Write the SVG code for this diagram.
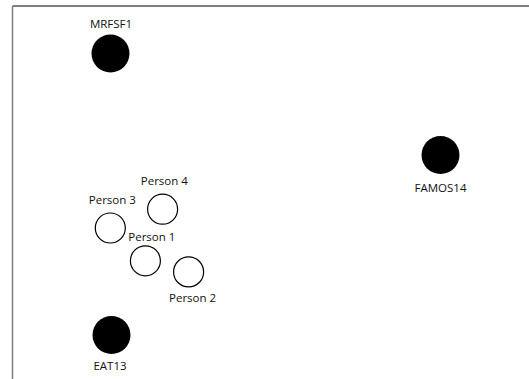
<svg xmlns="http://www.w3.org/2000/svg" width="529" height="379" viewBox="0 0 529 379">
<style>
.lbl{font-family:"Open Sans","Liberation Sans",sans-serif;font-size:11.5px;fill:#111;text-anchor:middle}
.big{fill:#000}
.small{fill:#fff;stroke:#000;stroke-width:1.2}
</style>
<rect width="529" height="379" fill="#fff"/>
<g id="frame">
<line x1="12.5" y1="6" x2="529" y2="6" stroke="#000" stroke-width="1.2"/>
<line x1="12.5" y1="6" x2="12.5" y2="379" stroke="#777" stroke-width="1.4"/>
</g>
<g id="connectors"></g>
<g id="MRFSF1"><circle class="big" cx="110.5" cy="53.5" r="19"/><text class="lbl" x="111" y="27.5">MRFSF1</text></g>
<g id="FAMOS14"><circle class="big" cx="440.5" cy="155" r="19"/><text class="lbl" x="440.5" y="191.5">FAMOS14</text></g>
<g id="EAT13"><circle class="big" cx="111.5" cy="335" r="19"/><text class="lbl" x="110" y="370">EAT13</text></g>
<g id="Person4"><circle class="small" cx="162.6" cy="209.2" r="15"/><text class="lbl" x="164.3" y="185">Person 4</text></g>
<g id="Person3"><circle class="small" cx="110.3" cy="228" r="15"/><text class="lbl" x="112.3" y="204">Person 3</text></g>
<g id="Person1"><circle class="small" cx="145.4" cy="260.8" r="15"/><text class="lbl" x="151.8" y="240.5">Person 1</text></g>
<g id="Person2"><circle class="small" cx="188.6" cy="271.9" r="15"/><text class="lbl" x="192.6" y="302">Person 2</text></g>
</svg>
